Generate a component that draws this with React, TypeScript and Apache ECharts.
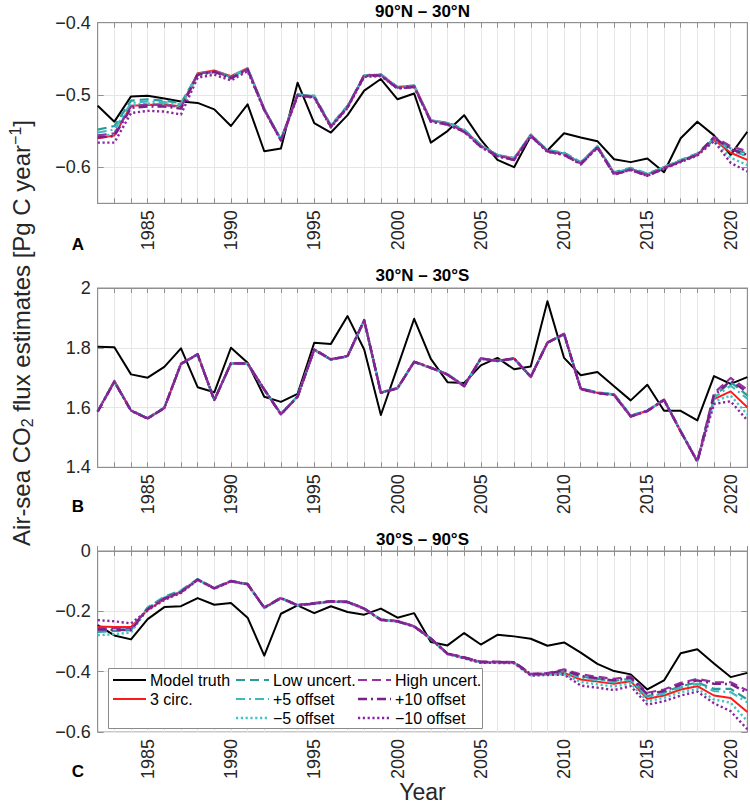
import React, { useEffect, useRef } from 'react';
import * as echarts from 'echarts';

// Years on the x axis
const YEARS = [
  1982, 1983, 1984, 1985, 1986, 1987, 1988, 1989, 1990, 1991,
  1992, 1993, 1994, 1995, 1996, 1997, 1998, 1999, 2000, 2001,
  2002, 2003, 2004, 2005, 2006, 2007, 2008, 2009, 2010, 2011,
  2012, 2013, 2014, 2015, 2016, 2017, 2018, 2019, 2020, 2021,
];

// ---- 90°N – 30°N ----
const A_TRUTH = [-0.515,-0.537,-0.502,-0.501,-0.505,-0.509,-0.511,-0.520,-0.543,-0.513, -0.578,-0.574,-0.483,-0.539,-0.552,-0.528,-0.494,-0.478,-0.506,-0.498, -0.566,-0.550,-0.528,-0.562,-0.590,-0.600,-0.557,-0.577,-0.553,-0.559, -0.564,-0.589,-0.593,-0.588,-0.607,-0.560,-0.537,-0.556,-0.583,-0.551];
const A_3CIRC = [-0.560,-0.556,-0.515,-0.514,-0.513,-0.516,-0.470,-0.466,-0.474,-0.463, -0.519,-0.562,-0.499,-0.502,-0.543,-0.516,-0.473,-0.472,-0.489,-0.487, -0.535,-0.539,-0.549,-0.570,-0.583,-0.588,-0.555,-0.577,-0.581,-0.594, -0.571,-0.608,-0.602,-0.610,-0.600,-0.591,-0.582,-0.562,-0.580,-0.590];
const A_LOW = [-0.548,-0.543,-0.508,-0.506,-0.508,-0.511,-0.472,-0.468,-0.475,-0.464, -0.520,-0.561,-0.500,-0.501,-0.542,-0.515,-0.474,-0.471,-0.490,-0.488, -0.536,-0.538,-0.548,-0.569,-0.584,-0.587,-0.556,-0.576,-0.580,-0.593, -0.572,-0.607,-0.601,-0.609,-0.600,-0.590,-0.581,-0.559,-0.574,-0.581];
const A_HIGH = [-0.556,-0.553,-0.516,-0.513,-0.514,-0.517,-0.471,-0.467,-0.476,-0.464, -0.520,-0.563,-0.500,-0.503,-0.544,-0.517,-0.472,-0.473,-0.490,-0.488, -0.536,-0.540,-0.550,-0.571,-0.584,-0.589,-0.556,-0.578,-0.582,-0.595, -0.572,-0.609,-0.603,-0.611,-0.601,-0.592,-0.583,-0.558,-0.571,-0.578];
const A_PLUS5 = [-0.552,-0.548,-0.511,-0.509,-0.510,-0.513,-0.471,-0.467,-0.474,-0.463, -0.519,-0.562,-0.499,-0.502,-0.543,-0.516,-0.473,-0.472,-0.489,-0.487, -0.535,-0.539,-0.549,-0.570,-0.583,-0.588,-0.555,-0.577,-0.581,-0.594, -0.571,-0.608,-0.602,-0.610,-0.600,-0.591,-0.582,-0.560,-0.577,-0.585];
const A_PLUS10 = [-0.559,-0.557,-0.518,-0.516,-0.516,-0.519,-0.472,-0.468,-0.477,-0.465, -0.521,-0.563,-0.501,-0.503,-0.544,-0.517,-0.474,-0.473,-0.491,-0.489, -0.537,-0.541,-0.551,-0.572,-0.585,-0.590,-0.557,-0.578,-0.583,-0.596, -0.573,-0.610,-0.604,-0.612,-0.602,-0.592,-0.583,-0.559,-0.575,-0.583];
const A_MINUS5 = [-0.558,-0.554,-0.514,-0.512,-0.513,-0.517,-0.473,-0.469,-0.477,-0.465, -0.520,-0.562,-0.500,-0.502,-0.543,-0.516,-0.473,-0.472,-0.489,-0.487, -0.535,-0.539,-0.549,-0.570,-0.583,-0.588,-0.555,-0.577,-0.581,-0.594, -0.571,-0.608,-0.602,-0.610,-0.600,-0.591,-0.582,-0.563,-0.587,-0.597];
const A_MINUS10 = [-0.566,-0.566,-0.525,-0.522,-0.523,-0.527,-0.476,-0.472,-0.480,-0.467, -0.521,-0.563,-0.501,-0.504,-0.545,-0.518,-0.475,-0.474,-0.491,-0.489, -0.537,-0.541,-0.551,-0.572,-0.585,-0.590,-0.557,-0.579,-0.583,-0.596, -0.573,-0.610,-0.604,-0.612,-0.602,-0.593,-0.584,-0.564,-0.594,-0.606];

// ---- 30°N – 30°S ----
const B_TRUTH = [1.803,1.802,1.711,1.700,1.736,1.798,1.668,1.651,1.800,1.750, 1.636,1.619,1.646,1.817,1.813,1.906,1.794,1.575,1.735,1.897, 1.763,1.685,1.682,1.741,1.766,1.728,1.737,1.956,1.766,1.708, 1.719,1.671,1.624,1.676,1.589,1.589,1.557,1.705,1.679,1.702];
const B_3CIRC = [1.587,1.690,1.590,1.563,1.599,1.746,1.778,1.625,1.748,1.747, 1.660,1.578,1.637,1.794,1.761,1.772,1.892,1.650,1.665,1.753, 1.733,1.711,1.672,1.764,1.756,1.764,1.703,1.817,1.846,1.663, 1.649,1.643,1.571,1.589,1.626,1.520,1.420,1.628,1.654,1.601];
const B_LOW = [1.588,1.686,1.591,1.565,1.600,1.745,1.776,1.626,1.747,1.746, 1.659,1.579,1.638,1.793,1.760,1.771,1.890,1.651,1.666,1.752, 1.732,1.712,1.673,1.763,1.755,1.763,1.704,1.816,1.845,1.664, 1.651,1.645,1.573,1.590,1.627,1.522,1.421,1.638,1.685,1.641];
const B_HIGH = [1.586,1.687,1.589,1.564,1.598,1.747,1.779,1.624,1.749,1.748, 1.661,1.577,1.636,1.795,1.762,1.773,1.893,1.649,1.664,1.754, 1.734,1.710,1.671,1.765,1.757,1.765,1.702,1.818,1.847,1.662, 1.648,1.642,1.570,1.588,1.625,1.519,1.419,1.648,1.699,1.660];
const B_PLUS5 = [1.587,1.687,1.590,1.564,1.599,1.746,1.777,1.625,1.748,1.747, 1.660,1.578,1.637,1.794,1.761,1.772,1.891,1.650,1.665,1.753, 1.733,1.711,1.672,1.764,1.756,1.764,1.703,1.817,1.846,1.663, 1.650,1.644,1.572,1.589,1.626,1.521,1.420,1.633,1.673,1.630];
const B_PLUS10 = [1.586,1.686,1.589,1.563,1.598,1.746,1.778,1.624,1.748,1.747, 1.660,1.577,1.636,1.794,1.761,1.772,1.892,1.649,1.664,1.753, 1.733,1.710,1.671,1.764,1.756,1.764,1.702,1.817,1.846,1.662, 1.648,1.642,1.570,1.588,1.625,1.520,1.419,1.640,1.690,1.652];
const B_MINUS5 = [1.588,1.688,1.591,1.564,1.600,1.746,1.777,1.626,1.747,1.746, 1.660,1.579,1.638,1.793,1.760,1.771,1.891,1.651,1.666,1.752, 1.732,1.712,1.673,1.763,1.755,1.763,1.704,1.816,1.845,1.664, 1.650,1.644,1.572,1.590,1.627,1.521,1.421,1.620,1.640,1.577];
const B_MINUS10 = [1.587,1.687,1.590,1.563,1.599,1.747,1.778,1.625,1.748,1.747, 1.661,1.578,1.637,1.794,1.761,1.772,1.892,1.650,1.665,1.753, 1.733,1.711,1.672,1.764,1.756,1.764,1.703,1.817,1.846,1.663, 1.649,1.643,1.571,1.589,1.626,1.520,1.420,1.612,1.621,1.557];

// ---- 30°S – 90°S ----
const C_TRUTH = [-0.246,-0.280,-0.293,-0.226,-0.186,-0.183,-0.156,-0.178,-0.172,-0.221, -0.347,-0.208,-0.180,-0.206,-0.183,-0.202,-0.211,-0.191,-0.221,-0.206, -0.302,-0.313,-0.272,-0.310,-0.278,-0.283,-0.291,-0.314,-0.303,-0.337, -0.374,-0.398,-0.409,-0.459,-0.429,-0.339,-0.326,-0.373,-0.418,-0.404];
const C_3CIRC = [-0.250,-0.252,-0.252,-0.195,-0.160,-0.137,-0.095,-0.124,-0.100,-0.110, -0.188,-0.156,-0.180,-0.174,-0.167,-0.169,-0.191,-0.228,-0.233,-0.250, -0.291,-0.341,-0.354,-0.369,-0.369,-0.370,-0.411,-0.408,-0.404,-0.426, -0.433,-0.440,-0.432,-0.490,-0.479,-0.459,-0.448,-0.479,-0.487,-0.534];
const C_LOW = [-0.268,-0.265,-0.262,-0.187,-0.152,-0.131,-0.093,-0.122,-0.099,-0.109, -0.187,-0.155,-0.179,-0.173,-0.166,-0.168,-0.190,-0.227,-0.232,-0.249, -0.290,-0.340,-0.353,-0.368,-0.368,-0.369,-0.409,-0.406,-0.398,-0.416, -0.424,-0.431,-0.423,-0.481,-0.469,-0.448,-0.436,-0.457,-0.457,-0.492];
const C_HIGH = [-0.255,-0.256,-0.256,-0.192,-0.157,-0.135,-0.094,-0.123,-0.100,-0.109, -0.187,-0.155,-0.179,-0.173,-0.166,-0.168,-0.190,-0.227,-0.232,-0.249, -0.290,-0.340,-0.352,-0.367,-0.367,-0.368,-0.407,-0.405,-0.392,-0.409, -0.417,-0.424,-0.415,-0.470,-0.459,-0.437,-0.424,-0.435,-0.435,-0.462];
const C_PLUS5 = [-0.262,-0.262,-0.259,-0.189,-0.154,-0.133,-0.094,-0.123,-0.099,-0.110, -0.188,-0.156,-0.180,-0.174,-0.167,-0.169,-0.191,-0.228,-0.233,-0.250, -0.291,-0.341,-0.353,-0.368,-0.369,-0.370,-0.410,-0.407,-0.400,-0.420, -0.428,-0.435,-0.427,-0.484,-0.473,-0.452,-0.440,-0.464,-0.468,-0.502];
const C_PLUS10 = [-0.260,-0.261,-0.262,-0.193,-0.158,-0.136,-0.095,-0.124,-0.100,-0.110, -0.188,-0.156,-0.180,-0.174,-0.167,-0.169,-0.191,-0.228,-0.233,-0.250, -0.290,-0.340,-0.353,-0.368,-0.368,-0.369,-0.408,-0.406,-0.396,-0.414, -0.422,-0.429,-0.420,-0.475,-0.464,-0.443,-0.429,-0.440,-0.441,-0.470];
const C_MINUS5 = [-0.279,-0.276,-0.270,-0.192,-0.157,-0.135,-0.095,-0.124,-0.100,-0.111, -0.189,-0.157,-0.181,-0.175,-0.168,-0.170,-0.192,-0.229,-0.234,-0.251, -0.292,-0.342,-0.355,-0.370,-0.370,-0.371,-0.412,-0.410,-0.408,-0.434, -0.442,-0.449,-0.439,-0.498,-0.487,-0.468,-0.457,-0.492,-0.503,-0.564];
const C_MINUS10 = [-0.229,-0.233,-0.240,-0.197,-0.162,-0.139,-0.096,-0.125,-0.101,-0.111, -0.189,-0.157,-0.181,-0.175,-0.168,-0.170,-0.192,-0.229,-0.234,-0.251, -0.292,-0.342,-0.356,-0.371,-0.371,-0.372,-0.413,-0.411,-0.410,-0.446, -0.453,-0.461,-0.448,-0.509,-0.498,-0.479,-0.466,-0.505,-0.531,-0.591];

const FONT = '"Liberation Sans", Arial, Helvetica, sans-serif';
const TEXT = '#262626';
const FRAME = '#8f8f8f';
const GRID_LINE = '#e6e6e6';

type Trace = {
  key: string;
  label: string;
  color: string;
  dash: number[] | 'solid';
  width: number;
  row: number;
  col: number;
};

// Drawing order: truth underneath, then the reconstructions
const TRACES: Trace[] = [
  { key: 'truth', label: 'Model truth', color: '#000000', dash: 'solid', width: 2, row: 0, col: 0 },
  { key: 'circ3', label: '3 circ.', color: '#ff1a1a', dash: 'solid', width: 2, row: 1, col: 0 },
  { key: 'low', label: 'Low uncert.', color: '#279a9a', dash: [9, 5], width: 2.2, row: 0, col: 1 },
  { key: 'plus5', label: '+5 offset', color: '#3bbcbc', dash: [9, 4, 2, 4], width: 2.2, row: 1, col: 1 },
  { key: 'minus5', label: '\u22125 offset', color: '#43c5c5', dash: [2.2, 2.6], width: 2.4, row: 2, col: 1 },
  { key: 'high', label: 'High uncert.', color: '#95329f', dash: [9, 5], width: 2.2, row: 0, col: 2 },
  { key: 'plus10', label: '+10 offset', color: '#7b1f88', dash: [9, 4, 2, 4], width: 2.4, row: 1, col: 2 },
  { key: 'minus10', label: '\u221210 offset', color: '#8a25a0', dash: [2.2, 2.6], width: 2.4, row: 2, col: 2 },
];

type Panel = {
  title: string;
  letter: string;
  top: number;
  height: number;
  min: number;
  max: number;
  titleY: number;
  letterY: number;
  values: Record<string, number[]>;
};

const PANELS: Panel[] = [
  {
    title: '90°N – 30°N', letter: 'A', top: 22.7, height: 180.6, min: -0.65, max: -0.4, titleY: 11, letterY: 244,
    values: { truth: A_TRUTH, circ3: A_3CIRC, low: A_LOW, plus5: A_PLUS5, minus5: A_MINUS5, high: A_HIGH, plus10: A_PLUS10, minus10: A_MINUS10 },
  },
  {
    title: '30°N – 30°S', letter: 'B', top: 288, height: 179.3, min: 1.4, max: 2, titleY: 275, letterY: 506,
    values: { truth: B_TRUTH, circ3: B_3CIRC, low: B_LOW, plus5: B_PLUS5, minus5: B_MINUS5, high: B_HIGH, plus10: B_PLUS10, minus10: B_MINUS10 },
  },
  {
    title: '30°S – 90°S', letter: 'C', top: 551, height: 181, min: -0.6, max: 0, titleY: 539, letterY: 771,
    values: { truth: C_TRUTH, circ3: C_3CIRC, low: C_LOW, plus5: C_PLUS5, minus5: C_MINUS5, high: C_HIGH, plus10: C_PLUS10, minus10: C_MINUS10 },
  },
];

const PLOT_LEFT = 97.7;
const PLOT_RIGHT = 747.3;
const PLOT_W = PLOT_RIGHT - PLOT_LEFT;
const CX = (PLOT_LEFT + PLOT_RIGHT) / 2;

function yLabel(v: number): string {
  if (Math.abs(v * 10 - Math.round(v * 10)) > 1e-6) return '';
  return String(Number(v.toFixed(1))).replace('-', '\u2212');
}

function buildOption(): echarts.EChartsCoreOption {
  const grid: any[] = [];
  const xAxis: any[] = [];
  const yAxis: any[] = [];
  const series: any[] = [];
  const graphic: any[] = [];

  PANELS.forEach((p, gi) => {
    grid.push({
      left: PLOT_LEFT, top: p.top, width: PLOT_W, height: p.height,
      show: true, borderColor: FRAME, borderWidth: 1, backgroundColor: '#ffffff',
    });
    const xBase = {
      type: 'value', gridIndex: gi, min: 1982, max: 2021, interval: 1,
      axisLine: { show: true, lineStyle: { color: FRAME, width: 1 } },
      axisTick: { show: true, inside: true, length: 5, lineStyle: { color: FRAME } },
    };
    xAxis.push({
      ...xBase, position: 'bottom',
      splitLine: { show: true, lineStyle: { color: GRID_LINE, width: 1 } },
      axisLabel: {
        show: true, rotate: 90, margin: 7, fontSize: 18, color: TEXT, fontFamily: FONT,
        formatter: (v: number) => (Math.round(v) % 5 === 0 ? String(Math.round(v)) : ''),
      },
    });
    xAxis.push({
      ...xBase, position: 'top',
      splitLine: { show: false }, axisLabel: { show: false },
    });
    const yBase = {
      type: 'value', gridIndex: gi, min: p.min, max: p.max, splitNumber: 3,
      axisLine: { show: true, lineStyle: { color: FRAME, width: 1 } },
      axisTick: { show: true, inside: true, length: 6, lineStyle: { color: FRAME } },
    };
    yAxis.push({
      ...yBase, position: 'left',
      splitLine: { show: true, lineStyle: { color: GRID_LINE, width: 1 } },
      axisLabel: { show: true, margin: 7, fontSize: 18, color: TEXT, fontFamily: FONT, formatter: yLabel },
    });
    yAxis.push({
      ...yBase, position: 'right',
      splitLine: { show: false }, axisLabel: { show: false },
    });

    TRACES.forEach((t) => {
      const vals = p.values[t.key];
      series.push({
        type: 'line',
        name: t.label,
        xAxisIndex: gi * 2,
        yAxisIndex: gi * 2,
        data: YEARS.map((yr, i) => [yr, vals[i]]),
        showSymbol: false,
        symbol: 'none',
        lineStyle: { color: t.color, width: t.width, type: t.dash, cap: 'butt', join: 'round' },
        emphasis: { disabled: true },
        z: 3,
      });
    });

    graphic.push({
      type: 'text', x: CX, y: p.titleY, z: 20,
      style: { text: p.title, fontSize: 17, fontWeight: 'bold', fontFamily: FONT, fill: '#000', align: 'center', verticalAlign: 'middle' },
    });
    graphic.push({
      type: 'text', x: 78, y: p.letterY, z: 20,
      style: { text: p.letter, fontSize: 17, fontWeight: 'bold', fontFamily: FONT, fill: '#000', align: 'center', verticalAlign: 'middle' },
    });
  });

  // Shared axis labels
  graphic.push({
    type: 'text', x: 21, y: 333, rotation: Math.PI / 2, z: 20,
    style: {
      text: '{n|Air-sea CO}{sub|2}{n| flux estimates [Pg C year}{sup|\u22121}{n|]}',
      align: 'center', verticalAlign: 'middle', fill: TEXT, fontFamily: FONT, fontSize: 24,
      rich: {
        n: { fontSize: 24, fontFamily: FONT, fill: TEXT },
        sub: { fontSize: 16, fontFamily: FONT, fill: TEXT, padding: [12, 0, 0, 0] },
        sup: { fontSize: 16, fontFamily: FONT, fill: TEXT, padding: [0, 0, 12, 0] },
      },
    },
  });
  graphic.push({
    type: 'text', x: CX, y: 792, z: 20,
    style: { text: 'Year', fontSize: 23, fontFamily: FONT, fill: TEXT, align: 'center', verticalAlign: 'middle' },
  });

  // Legend box in the bottom panel
  const legendX = 108, legendY = 668, legendW = 374, legendH = 60;
  graphic.push({
    type: 'rect', z: 30,
    shape: { x: legendX + 0.5, y: legendY + 0.5, width: legendW, height: legendH },
    style: { fill: '#ffffff', stroke: '#8a8a8a', lineWidth: 1 },
  });
  const lineX = [113, 236, 358];
  const textX = [150, 273, 395];
  const rowY = [680, 699, 718];
  TRACES.forEach((t) => {
    const y = rowY[t.row];
    graphic.push({
      type: 'line', z: 31,
      shape: { x1: lineX[t.col], y1: y, x2: lineX[t.col] + 33, y2: y },
      style: { stroke: t.color, lineWidth: t.width, lineDash: t.dash === 'solid' ? null : t.dash },
    });
    graphic.push({
      type: 'text', x: textX[t.col], y, z: 31,
      style: { text: t.label, fontSize: 16, fontFamily: FONT, fill: '#000', align: 'left', verticalAlign: 'middle' },
    });
  });

  return {
    animation: false,
    backgroundColor: '#ffffff',
    grid,
    xAxis,
    yAxis,
    series,
    graphic,
  };
}

export default function App() {
  const ref = useRef<HTMLDivElement>(null);
  useEffect(() => {
    if (!ref.current) return;
    const chart = echarts.init(ref.current, null, { renderer: 'svg' });
    chart.setOption(buildOption());
    return () => chart.dispose();
  }, []);
  return (
    <div
      ref={ref}
      style={{ position: 'absolute', left: 0, top: 0, width: 750, height: 806, background: '#fff' }}
    />
  );
}
